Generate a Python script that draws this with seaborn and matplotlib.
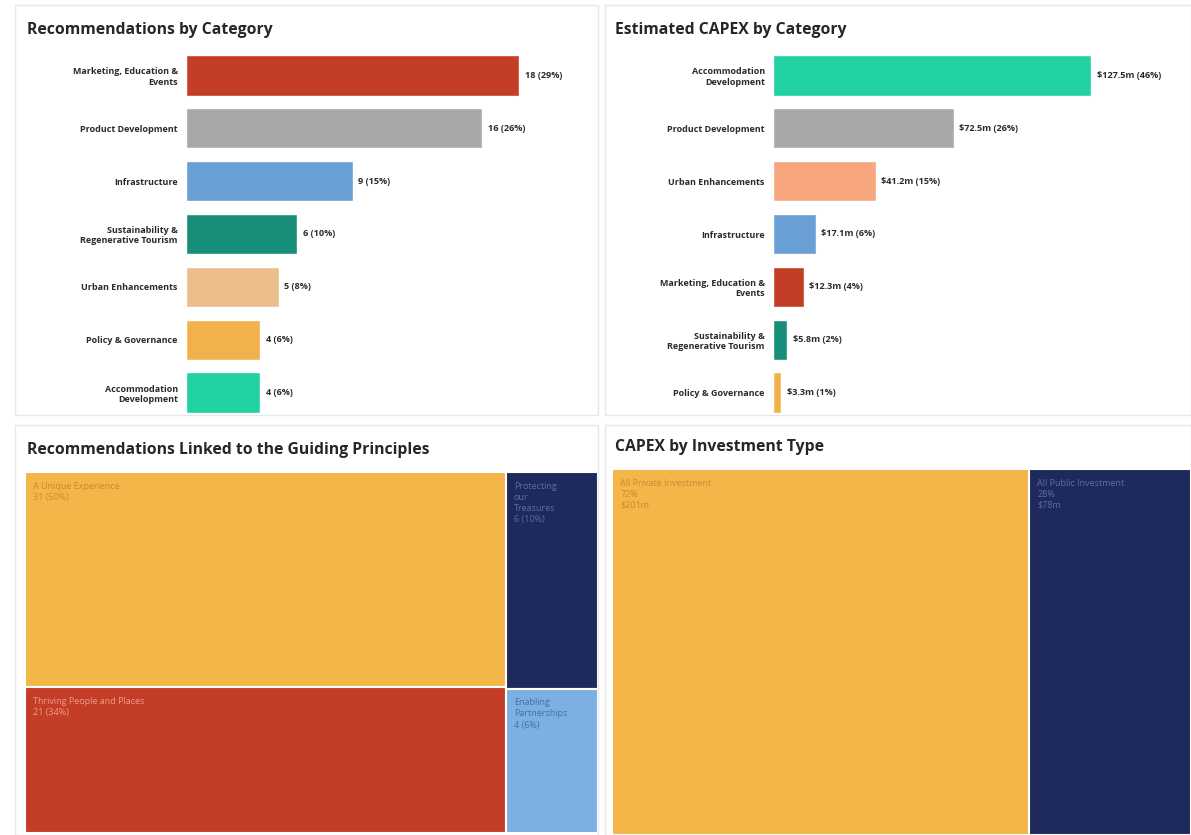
import numpy as np
import pandas as pd
import matplotlib
matplotlib.use("Agg")
import matplotlib.pyplot as plt
from matplotlib.patches import Rectangle
import seaborn as sns

sns.set_theme(style="white")
plt.rcParams['font.family'] = ['Open Sans', 'DejaVu Sans']

W, H = 1191, 835

### Data
rec_categories = ["Marketing, Education &\nEvents", "Product Development", "Infrastructure",
                  "Sustainability &\nRegenerative Tourism", "Urban Enhancements",
                  "Policy & Governance", "Accommodation\nDevelopment"]
rec_counts = [18, 16, 9, 6, 5, 4, 4]
rec_pct = [29, 26, 15, 10, 8, 6, 6]
rec_colors = ["#C43D27", "#A8A8A8", "#6A9FD6", "#168E78", "#EBBE8C", "#F2B14A", "#21D1A2"]

capex_categories = ["Accommodation\nDevelopment", "Product Development", "Urban Enhancements",
                    "Infrastructure", "Marketing, Education &\nEvents",
                    "Sustainability &\nRegenerative Tourism", "Policy & Governance"]
capex_values = [127.5, 72.5, 41.2, 17.1, 12.3, 5.8, 3.3]
capex_pct = [46, 26, 15, 6, 4, 2, 1]
capex_colors = ["#21D1A2", "#A8A8A8", "#F7A67E", "#6A9FD6", "#C43D27", "#168E78", "#F2B14A"]

principle_names = ["A Unique Experience", "Thriving People and Places",
                   "Protecting\nour\nTreasures", "Enabling\nPartnerships"]
principle_counts = [31, 21, 6, 4]
principle_pct = [50, 34, 10, 6]
principle_column = [0, 0, 1, 1]
principle_colors = ["#F4B648", "#C43D27", "#1E2A5C", "#7DB0E2"]
principle_text = ["#C98A33", "#EE9C88", "#5B6DA6", "#3F70A8"]

invest_names = ["All Private Investment", "All Public Investment"]
invest_pct = [72, 28]
invest_values = [201, 78]
invest_column = [0, 1]
invest_colors = ["#F4B648", "#1E2A5C"]
invest_text = ["#C98A33", "#5B6DA6"]


def px_axes(fig, x0, y0, x1, y1):
    return fig.add_axes([x0 / W, 1 - y1 / H, (x1 - x0) / W, (y1 - y0) / H])


def bar_panel(ax, cats, vals, labels, colors, xmax):
    df = pd.DataFrame({"cat": cats, "val": vals})
    sns.barplot(data=df, x="val", y="cat", hue="cat", palette=dict(zip(cats, colors)),
                orient="h", width=0.76, saturation=1, legend=False, ax=ax)
    for cont, lab in zip(ax.containers, labels):
        ax.bar_label(cont, labels=[lab], padding=4, fontsize=6.6, fontweight='bold', color='#2b2b2b')
    ax.set_xlim(0, xmax)
    ax.set_xlabel("")
    ax.set_ylabel("")
    ax.set_xticks([])
    ax.tick_params(axis='y', length=0, pad=6, labelsize=6.5, labelcolor='#2b2b2b')
    for lab in ax.get_yticklabels():
        lab.set_fontweight('bold')
    sns.despine(ax=ax, left=True, bottom=True)
    ax.patch.set_alpha(0)


def treemap(ax, values, columns, colors, labels, text_colors):
    # two-level slice layout: columns left to right, cells top to bottom
    total = float(sum(values))
    x = 0.0
    for col in sorted(set(columns)):
        idx = [i for i, c in enumerate(columns) if c == col]
        col_sum = float(sum(values[i] for i in idx))
        w = col_sum / total
        top = 1.0
        for i in idx:
            h = values[i] / col_sum
            ax.bar(x, h, width=w, bottom=top - h, align='edge', color=colors[i],
                   edgecolor='white', linewidth=1.5)
            ax.annotate(labels[i], xy=(x, top), xytext=(6, -7), textcoords='offset points',
                        ha='left', va='top', fontsize=6.5, color=text_colors[i], linespacing=1.3)
            top -= h
        x += w
    ax.set_xlim(0, 1)
    ax.set_ylim(0, 1)
    ax.axis('off')


fig = plt.figure(figsize=(W / 100, H / 100), dpi=100)
fig.patch.set_facecolor('white')

# panel frames
for (x0, y0, x1, y1) in [(15, 5, 598, 415), (605, 5, 1191, 415), (15, 425, 598, 835), (605, 425, 1191, 835)]:
    fig.add_artist(Rectangle((x0 / W, 1 - y1 / H), (x1 - x0) / W, (y1 - y0) / H,
                             transform=fig.transFigure, fill=False, edgecolor='#E8E8E8', lw=1))

title_kw = dict(fontsize=11.3, fontweight='bold', color='#262626', va='center', ha='left')
fig.text(27 / W, 1 - 30 / H, "Recommendations by Category", **title_kw)
fig.text(615 / W, 1 - 30 / H, "Estimated CAPEX by Category", **title_kw)
fig.text(27 / W, 1 - 450 / H, "Recommendations Linked to the Guiding Principles", **title_kw)
fig.text(615 / W, 1 - 447 / H, "CAPEX by Investment Type", **title_kw)

### Top-left: recommendations by category
ax1 = px_axes(fig, 186, 49, 590, 419)
bar_panel(ax1, rec_categories, rec_counts,
          [f"{c} ({p}%)" for c, p in zip(rec_counts, rec_pct)],
          rec_colors, (590 - 186) / 18.5)

### Top-right: CAPEX by category
ax2 = px_axes(fig, 773, 49, 1185, 419)
bar_panel(ax2, capex_categories, capex_values,
          [f"${v}m ({p}%)" for v, p in zip(capex_values, capex_pct)],
          capex_colors, (1185 - 773) / 2.494)

### Bottom-left: treemap of guiding principles
ax3 = px_axes(fig, 25, 472, 598, 833)
treemap(ax3, principle_counts, principle_column, principle_colors,
        [f"{n}\n{c} ({p}%)" for n, c, p in zip(principle_names, principle_counts, principle_pct)],
        principle_text)

### Bottom-right: treemap of investment type
ax4 = px_axes(fig, 612, 469, 1191, 835)
treemap(ax4, invest_values, invest_column, invest_colors,
        [f"{n}\n{p}%\n${v}m" for n, p, v in zip(invest_names, invest_pct, invest_values)],
        invest_text)

fig.savefig("out.png", dpi=100, facecolor='white')
